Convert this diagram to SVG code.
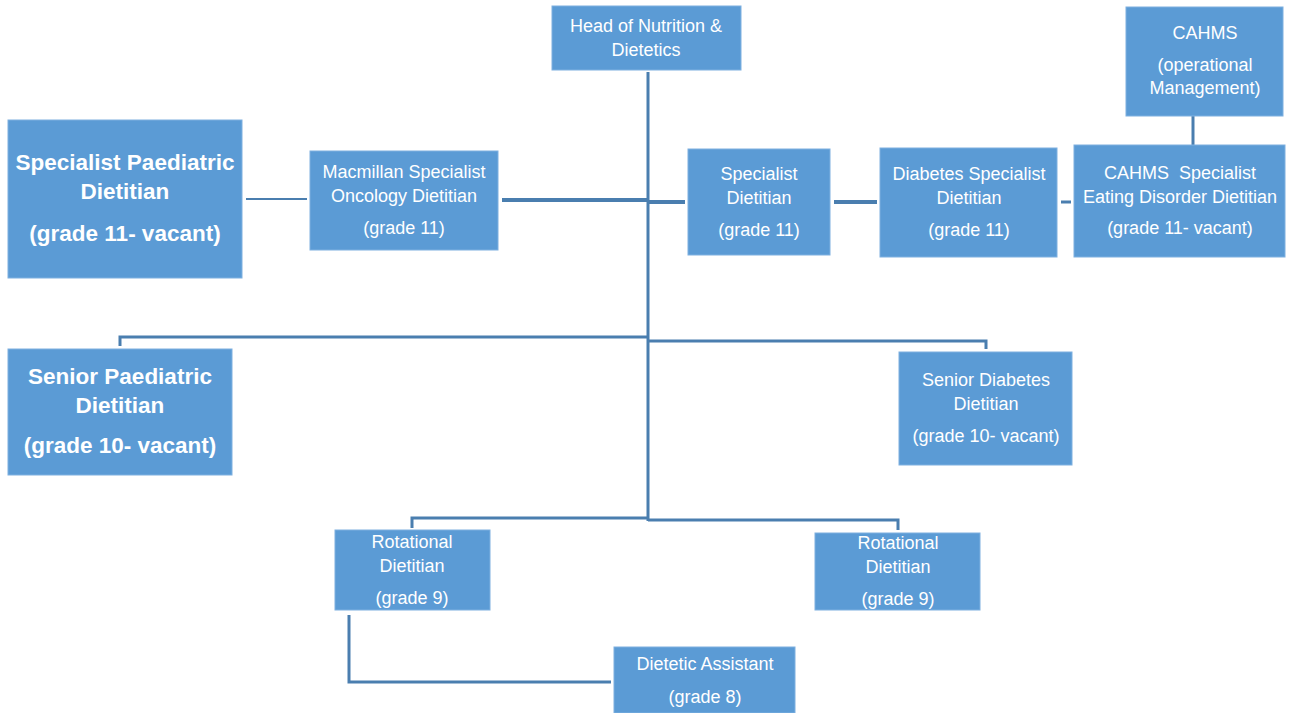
<svg xmlns="http://www.w3.org/2000/svg" width="1300" height="713" viewBox="0 0 1300 713">
<style>
.box{fill:#5B9BD5;stroke:#7EB0E0;stroke-width:1}
.t{font-family:"Liberation Sans",Arial,sans-serif;font-size:18px;fill:#fff;text-anchor:middle}
.b{font-family:"Liberation Sans",Arial,sans-serif;font-size:22.5px;font-weight:bold;fill:#fff;text-anchor:middle}
.ln{stroke:#4A7EAF;fill:none}
</style>
<rect width="1300" height="713" fill="#fff"/>
<g id="connectors">
<line class="ln" x1="648" y1="72" x2="648" y2="521" stroke-width="3"/>
<line class="ln" x1="246" y1="199" x2="307" y2="199" stroke-width="2"/>
<line class="ln" x1="502" y1="200" x2="648" y2="200" stroke-width="4"/>
<line class="ln" x1="648" y1="202" x2="685" y2="202" stroke-width="4"/>
<line class="ln" x1="834" y1="202" x2="877" y2="202" stroke-width="4"/>
<line class="ln" x1="1061" y1="202" x2="1071" y2="202" stroke-width="3"/>
<line class="ln" x1="1193" y1="116" x2="1193" y2="145" stroke-width="3"/>
<polyline class="ln" points="120,346 120,337 648,337" stroke-width="3"/>
<polyline class="ln" points="648,341 986,341 986,349" stroke-width="3"/>
<polyline class="ln" points="412,528 412,518 648,518" stroke-width="3"/>
<polyline class="ln" points="648,520 898,520 898,530" stroke-width="3"/>
<polyline class="ln" points="349,615 349,682 611,682" stroke-width="3"/>
</g>
<g id="head">
<rect class="box" x="552" y="6" width="189" height="64"/>
<text class="t" x="646" y="32">Head of Nutrition &amp;</text>
<text class="t" x="646" y="56">Dietetics</text>
</g>
<g id="cahms">
<rect class="box" x="1126" y="7" width="157" height="109"/>
<text class="t" x="1205" y="39">CAHMS</text>
<text class="t" x="1205" y="71">(operational</text>
<text class="t" x="1205" y="94">Management)</text>
</g>
<g id="cahms-specialist">
<rect class="box" x="1074" y="145" width="211" height="112"/>
<text class="t" x="1180" y="179" xml:space="preserve">CAHMS  Specialist</text>
<text class="t" x="1180" y="203">Eating Disorder Dietitian</text>
<text class="t" x="1180" y="234">(grade 11- vacant)</text>
</g>
<g id="diabetes-specialist">
<rect class="box" x="880" y="148" width="177" height="109"/>
<text class="t" x="969" y="180">Diabetes Specialist</text>
<text class="t" x="969" y="204">Dietitian</text>
<text class="t" x="969" y="236">(grade 11)</text>
</g>
<g id="specialist">
<rect class="box" x="688" y="149" width="142" height="106"/>
<text class="t" x="759" y="180">Specialist</text>
<text class="t" x="759" y="204">Dietitian</text>
<text class="t" x="759" y="236">(grade 11)</text>
</g>
<g id="macmillan">
<rect class="box" x="310" y="151" width="188" height="99"/>
<text class="t" x="404" y="178">Macmillan Specialist</text>
<text class="t" x="404" y="202">Oncology Dietitian</text>
<text class="t" x="404" y="234">(grade 11)</text>
</g>
<g id="specialist-paediatric">
<rect class="box" x="8" y="120" width="234" height="158"/>
<text class="b" x="125" y="170">Specialist Paediatric</text>
<text class="b" x="125" y="199">Dietitian</text>
<text class="b" x="125" y="241">(grade 11- vacant)</text>
</g>
<g id="senior-paediatric">
<rect class="box" x="8" y="349" width="224" height="126"/>
<text class="b" x="120" y="384">Senior Paediatric</text>
<text class="b" x="120" y="413">Dietitian</text>
<text class="b" x="120" y="453">(grade 10- vacant)</text>
</g>
<g id="senior-diabetes">
<rect class="box" x="899" y="352" width="173" height="113"/>
<text class="t" x="986" y="386">Senior Diabetes</text>
<text class="t" x="986" y="410">Dietitian</text>
<text class="t" x="986" y="442">(grade 10- vacant)</text>
</g>
<g id="rotational-left">
<rect class="box" x="335" y="530" width="155" height="80"/>
<text class="t" x="412" y="548">Rotational</text>
<text class="t" x="412" y="572">Dietitian</text>
<text class="t" x="412" y="604">(grade 9)</text>
</g>
<g id="rotational-right">
<rect class="box" x="815" y="533" width="165" height="77"/>
<text class="t" x="898" y="549">Rotational</text>
<text class="t" x="898" y="573">Dietitian</text>
<text class="t" x="898" y="605">(grade 9)</text>
</g>
<g id="dietetic-assistant">
<rect class="box" x="614" y="647" width="181" height="66"/>
<text class="t" x="705" y="670">Dietetic Assistant</text>
<text class="t" x="705" y="703">(grade 8)</text>
</g>
</svg>
